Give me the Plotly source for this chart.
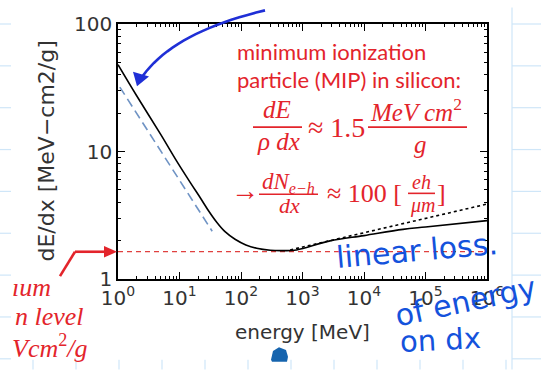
import plotly.graph_objects as go

# ---- data ----
energy = [1, 2, 5, 9, 15, 22, 30, 40, 55, 80, 120, 180, 300, 500, 800, 2800, 1e4, 4.3e4, 1e5, 1e6]
dedx = [48, 27.5, 13.5, 8.4, 5.7, 4.3, 3.4, 2.8, 2.35, 2.05, 1.85, 1.74, 1.68, 1.67, 1.69,
        1.99, 2.19, 2.45, 2.56, 2.87]

dotted_energy = [630, 1000, 1e4, 1e5, 1e6]
dotted_dedx = [1.69, 1.78, 2.32, 3.01, 3.87]

blue_energy = [1.07, 34]
blue_dedx = [32, 2.37]

mip_energy = [1, 1e6]
mip_dedx = [1.64, 1.64]

x_tickvals = [1, 10, 100, 1000, 1e4, 1e5, 1e6]
x_ticktext = ["10<sup>0</sup>", "10<sup>1</sup>", "10<sup>2</sup>", "10<sup>3</sup>",
              "10<sup>4</sup>", "10<sup>5</sup>", "10<sup>6</sup>"]
y_tickvals = [1, 10, 100]
y_ticktext = ["1", "10", "100"]

W, H = 541, 372
L, R, T, B = 118, 487, 17, 279


def px(x):
    return (x - L) / (R - L)


def py(y):
    return (B - y) / (B - T)


fig = go.Figure()
fig.add_trace(go.Scatter(x=mip_energy, y=mip_dedx, mode="lines",
                         line=dict(color="#e0403f", width=1.3, dash="5px,4px"), showlegend=False))
fig.add_trace(go.Scatter(x=blue_energy, y=blue_dedx, mode="lines",
                         line=dict(color="#6f93c4", width=1.6, dash="9px,5px"), showlegend=False))
fig.add_trace(go.Scatter(x=dotted_energy, y=dotted_dedx, mode="lines",
                         line=dict(color="black", width=1.6, dash="dot"), showlegend=False))
fig.add_trace(go.Scatter(x=energy, y=dedx, mode="lines", line_shape="spline",
                         line=dict(color="black", width=1.6), showlegend=False))

minor_x = [k * 10 ** n for n in range(0, 6) for k in range(2, 10)]
minor_y = [k * 10 ** n for n in range(0, 2) for k in range(2, 10)]

axis_font = dict(family="DejaVu Sans", size=20, color="#333333")
fig.update_xaxes(type="log", range=[0, 6], tickvals=x_tickvals, ticktext=x_ticktext,
                 ticks="inside", ticklen=7, tickcolor="black", showline=True, linecolor="black",
                 linewidth=1.5, mirror="ticks", showgrid=False, zeroline=False, tickfont=axis_font,
                 minor=dict(tickvals=minor_x, ticks="inside", ticklen=3.5, tickcolor="black"))
fig.update_yaxes(type="log", range=[0, 2], tickvals=y_tickvals, ticktext=y_ticktext,
                 ticks="inside", ticklen=7, tickcolor="black", showline=True, linecolor="black",
                 linewidth=1.5, mirror="ticks", showgrid=False, zeroline=False, tickfont=axis_font,
                 minor=dict(tickvals=minor_y, ticks="inside", ticklen=3.5, tickcolor="black"))

red = "#e3242b"
ann = []


def txt(x, y, s, size, color=red, family="Liberation Serif", xanchor="center", angle=0):
    ann.append(dict(x=px(x), y=py(y), xref="paper", yref="paper", text=s, showarrow=False,
                    xanchor=xanchor, yanchor="middle", textangle=angle,
                    font=dict(family=family, size=size, color=color)))


# axis titles
txt(302, 333, "energy [MeV]", 20, color="#333333", family="DejaVu Sans")
txt(46, 148, "dE/dx [MeV\u2212cm2/g]", 22, color="#333333", family="DejaVu Sans", angle=-90)

# red sans text
txt(331, 45, "minimum ionization", 22, family="Lato")
txt(349, 74, "particle (MIP) in silicon:", 22, family="Lato")

# formula 1
txt(277, 105, "<i>dE</i>", 25)
txt(278, 138, "<i>\u03c1 dx</i>", 25)
txt(336, 123, "\u2248 1.5", 28)
txt(416, 105, "<i>MeV cm</i><sup>2</sup>", 25)
txt(420, 141, "<i>g</i>", 25)

# formula 2
txt(245, 188, "\u2192", 28)
txt(288, 180, "<i>dN</i><sub><i>e\u2212h</i></sub>", 23)
txt(289, 203, "<i>dx</i>", 22)
txt(364, 191, "\u2248 100 [", 26)
txt(421, 179, "<i>eh</i>", 20)
txt(422, 203, "<i>\u03bcm</i>", 20)
txt(441, 191, "]", 26)

# clipped red text on the left
txt(10, 288, "<i>\u0131um</i>", 26, xanchor="left")
txt(13, 318, "<i>n level</i>", 26, xanchor="left")
txt(10, 348, "<i>Vcm</i><sup>2</sup><i>/g</i>", 26, xanchor="left")

# blue handwriting
hand = "#1452dc"
txt(417, 250, "linear loss.", 30, color=hand, family="DejaVu Sans", angle=-5)
txt(465, 302, "of energy", 30, color=hand, family="DejaVu Sans", angle=-12)
txt(440, 342, "on dx", 29, color=hand, family="DejaVu Sans", angle=-3)

shapes = []


def seg(x0, y0, x1, y1, color, width):
    shapes.append(dict(type="line", xref="paper", yref="paper", x0=px(x0), y0=py(y0),
                       x1=px(x1), y1=py(y1), line=dict(color=color, width=width), layer="above"))


def path(points, color, width=0, fill=None, closed=False):
    d = "M " + " L ".join(f"{px(a):.5f},{py(b):.5f}" for a, b in points)
    if closed:
        d += " Z"
    shapes.append(dict(type="path", xref="paper", yref="paper", path=d,
                       line=dict(color=color, width=width), fillcolor=fill, layer="above"))


# notebook grid in margins
grid = "#cfe6f8"
for k in range(9):
    y = 17 + 43 * k
    seg(0, y, 11, y, grid, 1.2)
    seg(512, y, 541, y, grid, 1.2)
seg(512, 0, 512, 372, grid, 1.2)
for k in range(12):
    x = 33 + 43 * k
    seg(x, 362, x, 372, grid, 1.2)

# fraction bars
seg(253, 123, 302, 123, red, 1.6)
seg(368, 123, 467, 123, red, 1.6)
seg(259, 192, 318, 192, red, 1.6)
seg(408, 191, 435, 191, red, 1.6)

# red bent arrow
seg(60, 276, 75, 251, red, 2.6)
seg(75, 251, 106, 251, red, 2.6)
path([(117, 251), (104, 245), (104, 257)], red, 0, red, closed=True)

# blue curved arrow at top
curve = []
p0, p1, p2 = (265, 3), (175, 25), (143, 70)
for i in range(21):
    t = i / 20
    curve.append(((1 - t) ** 2 * p0[0] + 2 * (1 - t) * t * p1[0] + t * t * p2[0],
                  (1 - t) ** 2 * p0[1] + 2 * (1 - t) * t * p1[1] + t * t * p2[1]))
path(curve, "#1f2fd6", 2.6)
path([(137, 81), (133, 66), (149, 71)], "#1f2fd6", 0, "#1f2fd6", closed=True)

# blue blob bottom
path([(271, 362), (273, 353), (279, 349), (286, 352), (288, 359), (287, 364), (272, 364)],
     "#1664ae", 0, "#1664ae", closed=True)

fig.update_layout(width=W, height=H, margin=dict(l=L, r=W - R, t=T, b=H - B),
                  paper_bgcolor="white", plot_bgcolor="white", annotations=ann, shapes=shapes)
fig.write_html("out.html", config={"displayModeBar": False},
               post_script="document.body.style.margin='0';")
